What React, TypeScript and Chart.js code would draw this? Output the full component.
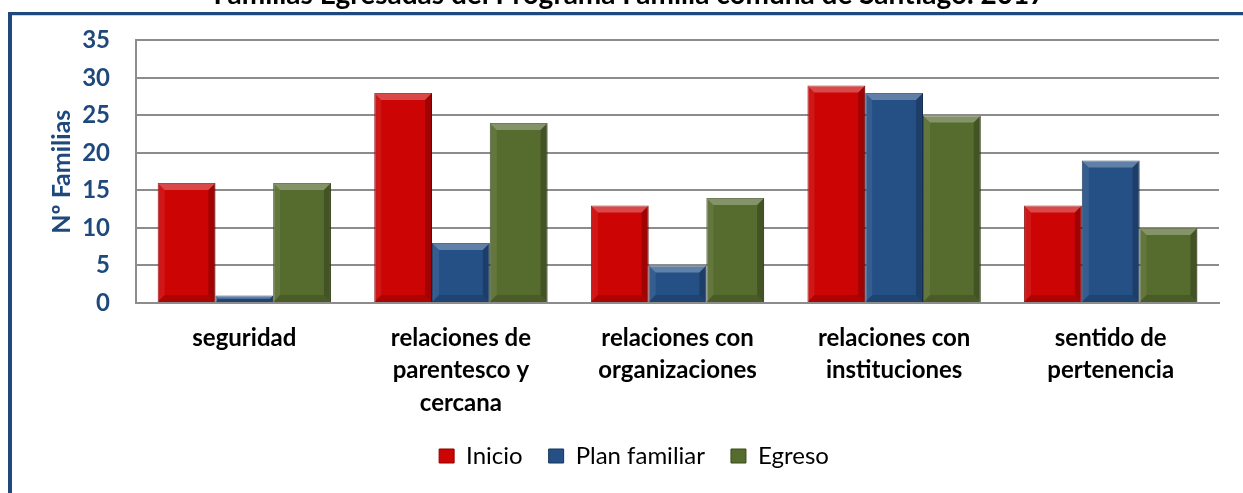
import React, { useEffect, useRef } from "react";
import { Chart, registerables } from "chart.js";

Chart.register(...registerables);

const TITLE = "Familias Egresadas del Programa Familia comuna de Santiago. 2017";
const categories: string[][] = [
  ["seguridad"],
  ["relaciones de", "parentesco y", "cercana"],
  ["relaciones con", "organizaciones"],
  ["relaciones con", "instituciones"],
  ["sentido de", "pertenencia"],
];
const inicio = [16, 28, 13, 29, 13];
const planFamiliar = [1, 8, 5, 28, 19];
const egreso = [16, 24, 14, 25, 10];
const seriesNames = ["Inicio", "Plan familiar", "Egreso"];
const seriesColors = ["#CC0404", "#255086", "#566B2E"];
const seriesBorders = ["#8E0000", "#17355C", "#3A4A1D"];
const yTitle = "Nº Familias";

const FONT = "Lato, 'Open Sans', sans-serif";
const BLUE = "#1F497D";

const framePlugin = {
  id: "frame",
  beforeDraw(chart: any) {
    const ctx = chart.ctx;
    ctx.save();
    ctx.fillStyle = BLUE;
    ctx.fillRect(8, 12, 4, chart.height);
    ctx.fillRect(8, 12, chart.width, 3);
    ctx.fillStyle = "#c9d6ea";
    ctx.fillRect(12, 15, chart.width, 1);
    ctx.restore();
  },
};

const bevelPlugin = {
  id: "bevel",
  afterDatasetsDraw(chart: any) {
    const ctx = chart.ctx;
    ctx.save();
    chart.data.datasets.forEach((_ds: any, di: number) => {
      const meta = chart.getDatasetMeta(di);
      meta.data.forEach((bar: any) => {
        const { x, y, base, width } = bar.getProps(["x", "y", "base", "width"], true);
        const l = x - width / 2;
        const r = x + width / 2;
        const t = Math.min(y, base);
        const b = Math.max(y, base);
        const h = b - t;
        const bv = Math.min(7, h / 2);
        ctx.fillStyle = "rgba(255,255,255,0.28)";
        ctx.beginPath();
        ctx.moveTo(l, t);
        ctx.lineTo(r, t);
        ctx.lineTo(r - bv, t + bv);
        ctx.lineTo(l + bv, t + bv);
        ctx.closePath();
        ctx.fill();
        ctx.fillStyle = "rgba(255,255,255,0.08)";
        ctx.beginPath();
        ctx.moveTo(l, t);
        ctx.lineTo(l + bv, t + bv);
        ctx.lineTo(l + bv, b - bv);
        ctx.lineTo(l, b);
        ctx.closePath();
        ctx.fill();
        ctx.fillStyle = "rgba(0,0,0,0.22)";
        ctx.beginPath();
        ctx.moveTo(r, t);
        ctx.lineTo(r - bv, t + bv);
        ctx.lineTo(r - bv, b - bv);
        ctx.lineTo(r, b);
        ctx.closePath();
        ctx.fill();
        ctx.fillStyle = "rgba(0,0,0,0.15)";
        ctx.beginPath();
        ctx.moveTo(l, b);
        ctx.lineTo(l + bv, b - bv);
        ctx.lineTo(r - bv, b - bv);
        ctx.lineTo(r, b);
        ctx.closePath();
        ctx.fill();
      });
    });
    ctx.restore();
  },
};

export default function App() {
  const ref = useRef<HTMLCanvasElement | null>(null);
  useEffect(() => {
    if (!ref.current) return;
    const values = [inicio, planFamiliar, egreso];
    const chart = new Chart(ref.current, {
      type: "bar",
      data: {
        labels: categories,
        datasets: seriesNames.map((name, i) => ({
          label: name,
          data: values[i],
          backgroundColor: seriesColors[i],
          borderColor: seriesBorders[i],
          borderWidth: 1,
          categoryPercentage: 0.8,
          barPercentage: 1.0,
        })),
      },
      options: {
        responsive: false,
        animation: false,
        layout: { padding: { left: 49, right: 24, top: 40, bottom: 15 } },
        plugins: {
          title: { display: false },
          tooltip: { enabled: false },
          legend: {
            position: "bottom",
            labels: {
              font: { family: FONT, size: 24 },
              color: "#000",
              boxWidth: 15,
              boxHeight: 14,
              padding: 26,
            },
          },
        },
        scales: {
          x: {
            grid: { display: false, drawTicks: false },
            border: { display: true, color: "#8c8c8c", width: 2 },
            ticks: {
              font: { family: FONT, size: 24, weight: "bold", lineHeight: 1.35 },
              color: "#000",
              padding: 19,
              maxRotation: 0,
              autoSkip: false,
            },
            afterFit(scale: any) {
              scale.height = 115;
            },
          },
          y: {
            min: 0,
            max: 35,
            ticks: {
              stepSize: 5,
              font: { family: FONT, size: 24, weight: "bold" },
              color: BLUE,
              padding: 26,
            },
            grid: { color: "#8c8c8c", lineWidth: 2, drawTicks: false },
            border: { display: true, color: "#8c8c8c", width: 2 },
            title: {
              display: true,
              text: yTitle,
              font: { family: FONT, size: 25, weight: "bold", lineHeight: 1.0 },
              color: BLUE,
              padding: { top: 0, bottom: 0 },
            },
            afterFit(scale: any) {
              scale.width = 87;
            },
          },
        },
      },
      plugins: [framePlugin, bevelPlugin],
    } as any);
    return () => chart.destroy();
  }, []);

  return (
    <div style={{ position: "absolute", left: 0, top: 0, width: 1243, height: 493, overflow: "hidden", background: "#fff" }}>
      <canvas ref={ref} width={1243} height={493} style={{ position: "absolute", left: 0, top: 0, width: 1243, height: 493 }} />
      <div
        style={{
          position: "absolute",
          left: 8,
          top: -20,
          width: 1243,
          textAlign: "center",
          fontFamily: FONT,
          fontWeight: "bold",
          fontSize: 28,
          lineHeight: "27px",
          color: "#000",
          whiteSpace: "nowrap",
        }}
      >
        {TITLE}
      </div>
    </div>
  );
}
